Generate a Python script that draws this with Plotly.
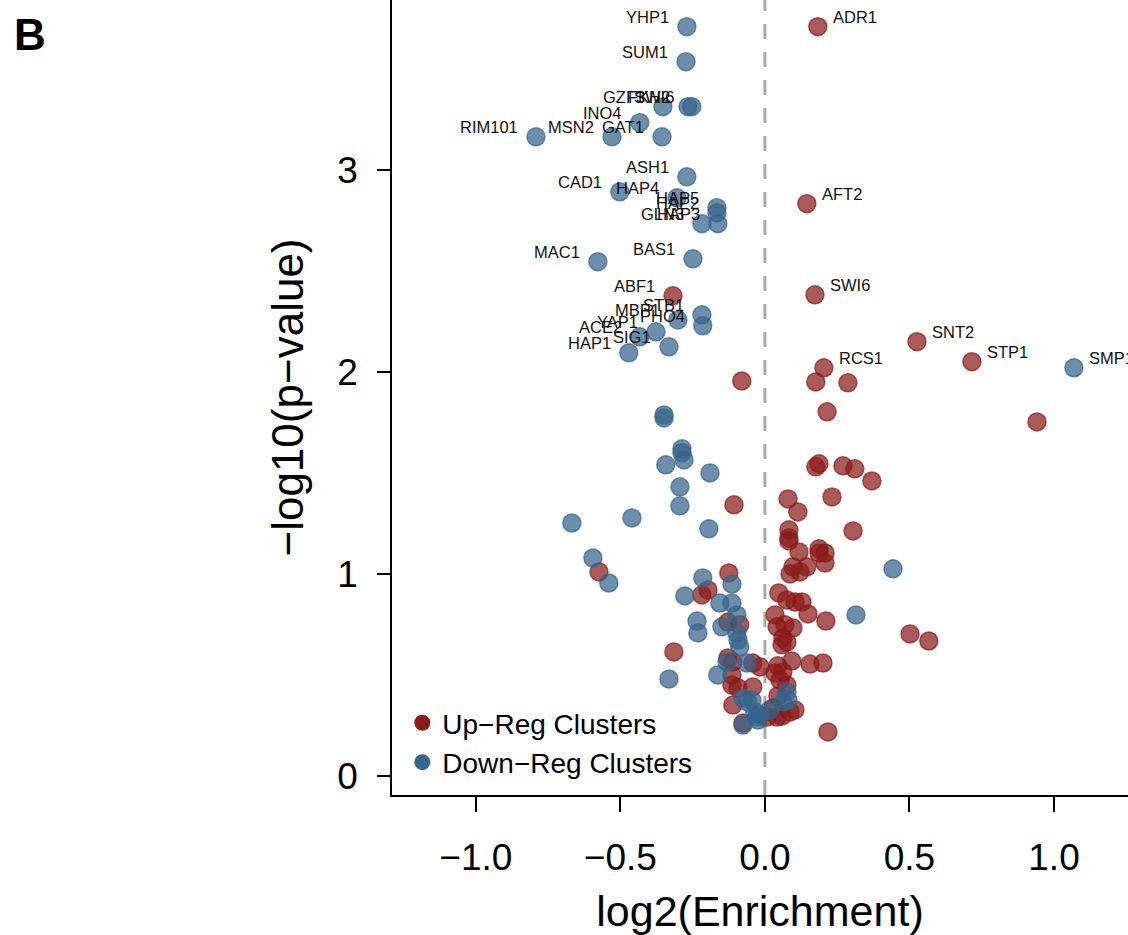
import plotly.graph_objects as go

# ---- data ----
up_lab_names = ["ADR1", "AFT2", "SWI6", "SNT2", "STP1", "RCS1", "ABF1"]
up_lab_x = [0.183, 0.145, 0.173, 0.526, 0.716, 0.204, -0.318]
up_lab_y = [3.708, 2.832, 2.381, 2.149, 2.050, 2.020, 2.376]

down_lab_names = ["YHP1", "SUM1", "GZF3", "FKH2", "SWI6", "INO4", "RIM101", "MSN2", "GAT1",
                  "ASH1", "CAD1", "HAP4", "HAP5", "HAP2", "HAP3", "GLN3", "MAC1", "BAS1",
                  "STB1", "PHO4", "MBP1", "YAP1", "ACE2", "SIG1", "HAP1", "SMP1"]
down_lab_x = [-0.270, -0.273, -0.353, -0.266, -0.253, -0.433, -0.792, -0.529, -0.356,
              -0.270, -0.502, -0.304, -0.166, -0.166, -0.163, -0.218, -0.578, -0.249,
              -0.218, -0.215, -0.301, -0.377, -0.433, -0.332, -0.471, 1.069]
down_lab_y = [3.708, 3.535, 3.312, 3.312, 3.312, 3.233, 3.163, 3.163, 3.163,
              2.965, 2.891, 2.861, 2.812, 2.787, 2.733, 2.733, 2.545, 2.559,
              2.282, 2.228, 2.257, 2.198, 2.173, 2.124, 2.094, 2.020]

up_x = [-0.080, 0.176, 0.287, 0.215, 0.941, 0.187, 0.176, 0.270, 0.311, 0.370,
        0.080, 0.232, -0.107, 0.114, 0.083, 0.305, 0.083, 0.083, 0.118, 0.187,
        0.187, 0.208, 0.208, 0.145, 0.097, 0.121, 0.087, -0.574, -0.125, 0.502,
        0.567, 0.048, 0.076, 0.104, 0.128, 0.149, 0.211, 0.035, 0.042, 0.069,
        0.097, 0.062, 0.059, 0.076, 0.093, 0.156, 0.201, 0.045, 0.035, 0.062,
        0.052, 0.076, 0.104, 0.028, 0.042, 0.218, -0.042, -0.042, -0.017, -0.218,
        -0.197, -0.128, -0.087, -0.315, -0.128, -0.111, -0.114, -0.114, -0.093, -0.111,
        -0.076, 0.007, 0.087, 0.045, 0.059]
up_y = [1.955, 1.950, 1.946, 1.802, 1.752, 1.545, 1.530, 1.535, 1.520, 1.460,
        1.371, 1.381, 1.342, 1.307, 1.218, 1.213, 1.178, 1.163, 1.109, 1.124,
        1.104, 1.104, 1.054, 1.035, 1.035, 1.010, 1.000, 1.010, 1.005, 0.703,
        0.668, 0.906, 0.871, 0.861, 0.861, 0.802, 0.767, 0.797, 0.738, 0.748,
        0.733, 0.683, 0.649, 0.663, 0.569, 0.554, 0.559, 0.545, 0.510, 0.515,
        0.475, 0.450, 0.327, 0.337, 0.292, 0.218, 0.441, 0.559, 0.540, 0.896,
        0.921, 0.762, 0.748, 0.614, 0.584, 0.564, 0.500, 0.450, 0.436, 0.351,
        0.262, 0.292, 0.317, 0.396, 0.297]

down_x = [-0.349, -0.349, -0.287, -0.287, -0.280, -0.343, -0.190, -0.294, -0.294, -0.668,
          -0.460, -0.194, -0.595, -0.540, -0.215, -0.114, -0.277, -0.156, -0.114, -0.097,
          -0.235, -0.232, -0.149, -0.097, -0.093, -0.087, -0.332, -0.131, -0.062, -0.163,
          -0.076, -0.045, -0.035, -0.017, -0.076, -0.024, 0.315, 0.443, 0.076, 0.062,
          0.080, -0.028, 0.017, -0.059]
down_y = [1.787, 1.772, 1.619, 1.599, 1.564, 1.540, 1.500, 1.431, 1.337, 1.252,
          1.277, 1.223, 1.079, 0.955, 0.980, 0.950, 0.891, 0.856, 0.856, 0.797,
          0.767, 0.708, 0.738, 0.708, 0.673, 0.639, 0.480, 0.564, 0.559, 0.500,
          0.386, 0.376, 0.317, 0.302, 0.252, 0.277, 0.797, 1.025, 0.416, 0.366,
          0.376, 0.292, 0.327, 0.366]

x_ticks = [-1.0, -0.5, 0.0, 0.5, 1.0]
y_ticks = [0, 1, 2, 3]

UP_SOLID = "rgb(139,26,26)"
DOWN_SOLID = "rgb(54,100,139)"
UP_A = "rgba(139,26,26,0.72)"
DOWN_A = "rgba(54,100,139,0.72)"
FONT = "Liberation Sans, Arial, Helvetica, sans-serif"

fig = go.Figure()

def mk(color):
    return dict(size=18, color=color, line=dict(color=color, width=1.5))

fig.add_trace(go.Scatter(x=up_x + up_lab_x, y=up_y + up_lab_y, mode="markers",
                         marker=mk(UP_A), showlegend=False, hoverinfo="skip"))
fig.add_trace(go.Scatter(x=down_x + down_lab_x, y=down_y + down_lab_y, mode="markers",
                         marker=mk(DOWN_A), showlegend=False, hoverinfo="skip"))
# legend entries (solid dots)
fig.add_trace(go.Scatter(x=[None], y=[None], mode="markers", name="Up\u2212Reg Clusters",
                         marker=dict(size=16, color=UP_SOLID)))
fig.add_trace(go.Scatter(x=[None], y=[None], mode="markers", name="Down\u2212Reg Clusters",
                         marker=dict(size=16, color=DOWN_SOLID)))

annotations = []
for names, xs, ys in [(up_lab_names, up_lab_x, up_lab_y), (down_lab_names, down_lab_x, down_lab_y)]:
    for n, x, y in zip(names, xs, ys):
        right = x > 0
        annotations.append(dict(
            x=x, y=y, xref="x", yref="y", text=n, showarrow=False,
            xanchor="left" if right else "right", yanchor="middle",
            xshift=13 if right else -16, yshift=10,
            font=dict(size=16.5, color="#111111", family=FONT)))

annotations.append(dict(x=-0.516, y=0.957, xref="paper", yref="paper", text="<b>B</b>",
                        showarrow=False, xanchor="left", yanchor="middle",
                        font=dict(size=44, color="black", family=FONT)))

fig.update_layout(
    width=1128, height=935,
    margin=dict(l=392, r=0, t=0, b=140),
    paper_bgcolor="white", plot_bgcolor="white",
    font=dict(family=FONT, color="black"),
    showlegend=True,
    legend=dict(x=0.014, y=0.010, xanchor="left", yanchor="bottom",
                font=dict(size=28, family=FONT, color="black"),
                bgcolor="rgba(0,0,0,0)", itemsizing="trace", tracegroupgap=0),
    annotations=annotations,
    shapes=[dict(type="line", xref="x", yref="paper", x0=0, x1=0, y0=0, y1=1,
                 line=dict(color="#aaaaaa", width=3, dash="15px,13px"), layer="below")],
    xaxis=dict(range=[-1.29, 1.256], tickvals=x_ticks, tickformat=".1f",
               showgrid=False, zeroline=False, showline=True, linecolor="black", linewidth=1.5,
               ticks="outside", ticklen=15, tickwidth=1.5, tickcolor="black",
               tickfont=dict(size=37, family=FONT), ticklabelstandoff=14,
               title=dict(text="log2(Enrichment)", font=dict(size=43, family=FONT), standoff=24)),
    yaxis=dict(range=[-0.094, 3.84], tickvals=y_ticks,
               showgrid=False, zeroline=False, showline=True, linecolor="black", linewidth=1.5,
               ticks="outside", ticklen=13, tickwidth=1.5, tickcolor="black",
               tickfont=dict(size=37, family=FONT), ticklabelstandoff=12,
               title=dict(text="\u2212log10(p\u2212value)", font=dict(size=44, family=FONT), standoff=20)),
)

fig.write_html("out.html")
